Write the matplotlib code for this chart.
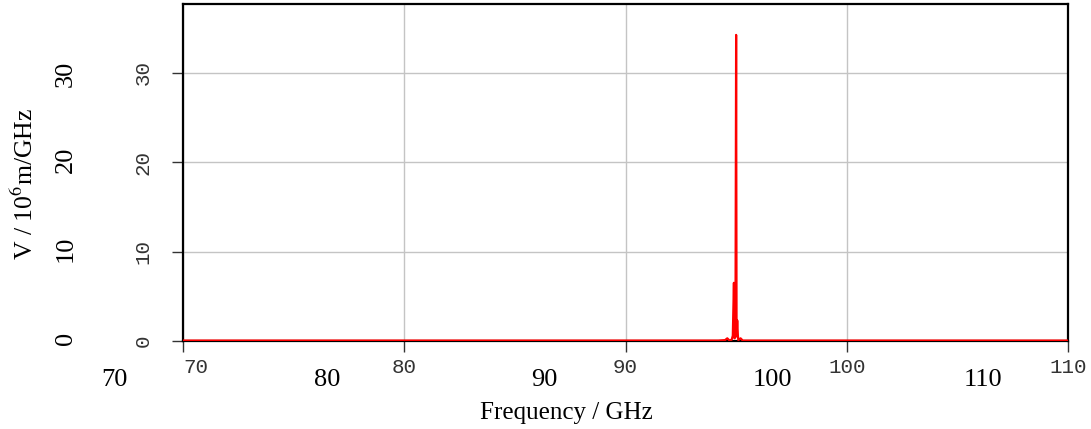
import matplotlib
matplotlib.use('Agg')
import matplotlib.pyplot as plt
import numpy as np

# spectrum (GHz, 10^6 m/GHz)
freq = [70.0, 75.0, 80.0, 85.0, 90.0, 94.2, 94.5, 94.6, 94.7, 94.8, 94.85,
        94.9, 94.93, 94.97, 95.0, 95.02, 95.05, 95.08, 95.1, 95.2, 95.3,
        95.4, 100.0, 105.0, 110.0]
volt = [0.05, 0.05, 0.05, 0.05, 0.05, 0.05, 0.1, 0.3, 0.05, 0.15, 0.6,
        6.5, 0.3, 1.0, 34.2, 0.5, 2.3, 0.6, 0.1, 0.3, 0.05,
        0.05, 0.05, 0.05, 0.05]

x_ticks = [70, 80, 90, 100, 110]
y_ticks = [0, 10, 20, 30]
tick_labels_x = ['70', '80', '90', '100', '110']
tick_labels_y = ['0', '10', '20', '30']

# large serif labels sit outside the axes, drawn where they appear
big_x_pos = [114, 327, 544, 772, 983]
big_y_pos = [338, 249, 160, 74]

plt.rcParams['mathtext.fontset'] = 'stix'
W, H = 1091, 429
fig = plt.figure(figsize=(W / 100, H / 100), dpi=100)
ax = fig.add_axes([183 / W, 1 - 341 / H, (1068 - 183) / W, (341 - 4.5) / H])

ax.plot(freq, volt, color='red', lw=1.6, zorder=3)
ax.set_xlim(70, 110)
ax.set_ylim(0, 37.6)
ax.grid(True, color='#c4c4c4', lw=1.0)
ax.set_axisbelow(True)

ax.set_xticks(x_ticks)
ax.set_xticklabels(tick_labels_x, family='Liberation Mono', fontsize=15, color='#333333')
ax.get_xticklabels()[0].set_ha('left')
ax.set_yticks(y_ticks)
ax.set_yticklabels(tick_labels_y, family='Liberation Mono', fontsize=15, color='#333333',
                   rotation=90, va='center')
ax.tick_params(length=8, width=1.0, color='#333333')
ax.tick_params(axis='x', pad=4)
ax.tick_params(axis='y', pad=14)
for s in ax.spines.values():
    s.set_linewidth(1.6)
    s.set_color('black')

for lab, px in zip(tick_labels_x, big_x_pos):
    fig.text(px / W, 1 - 380 / H, lab, family='Liberation Serif', fontsize=19,
             ha='center', va='center')
for lab, py in zip(tick_labels_y, big_y_pos):
    fig.text(66 / W, 1 - py / H, lab, family='Liberation Serif', fontsize=19,
             ha='center', va='center', rotation=90)

fig.text(566 / W, 1 - 413 / H, 'Frequency / GHz', family='Liberation Serif',
         fontsize=18, ha='center', va='center')
fig.text(25 / W, 1 - 184 / H, r'V / 10$^{6}$m/GHz', family='Liberation Serif',
         fontsize=18.5, ha='center', va='center', rotation=90)

fig.savefig('out.png', dpi=100)
